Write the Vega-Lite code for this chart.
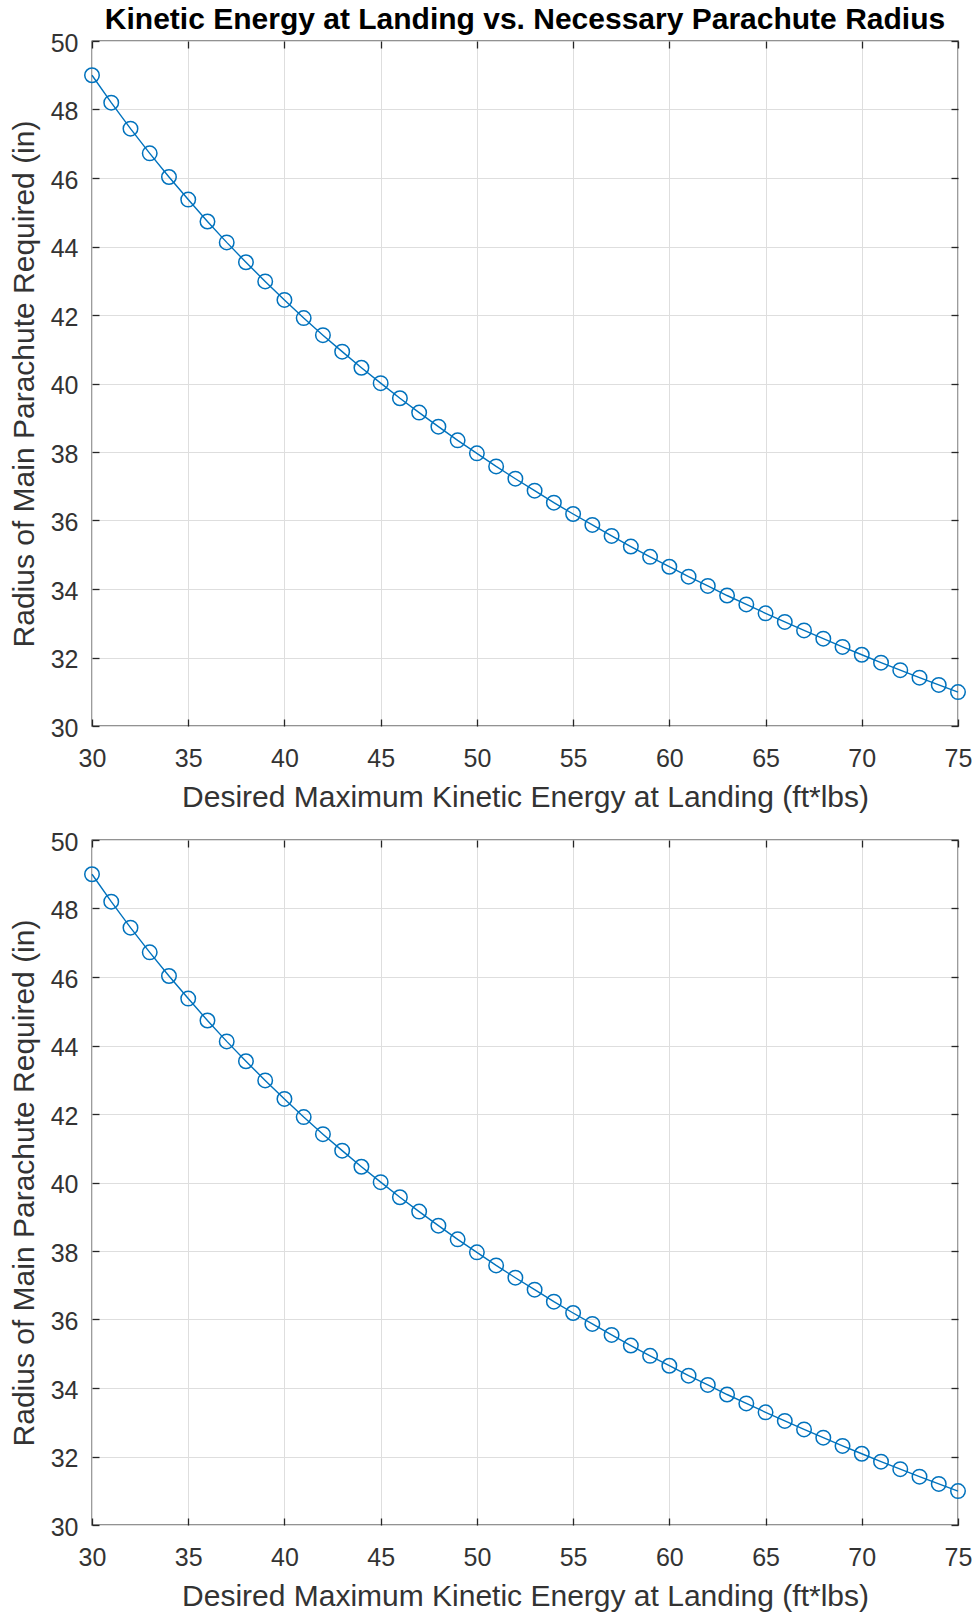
{
  "$schema": "https://vega.github.io/schema/vega-lite/v6.json",
  "padding": {"left": 8, "top": 4, "right": 10, "bottom": 0},
  "datasets": {
    "pts": [
      {"ke": 30, "r": 49.00}, {"ke": 31, "r": 48.20}, {"ke": 32, "r": 47.44}, {"ke": 33, "r": 46.72},
      {"ke": 34, "r": 46.03}, {"ke": 35, "r": 45.37}, {"ke": 36, "r": 44.73}, {"ke": 37, "r": 44.12},
      {"ke": 38, "r": 43.54}, {"ke": 39, "r": 42.98}, {"ke": 40, "r": 42.44}, {"ke": 41, "r": 41.91},
      {"ke": 42, "r": 41.41}, {"ke": 43, "r": 40.93}, {"ke": 44, "r": 40.46}, {"ke": 45, "r": 40.01},
      {"ke": 46, "r": 39.57}, {"ke": 47, "r": 39.15}, {"ke": 48, "r": 38.74}, {"ke": 49, "r": 38.34},
      {"ke": 50, "r": 37.96}, {"ke": 51, "r": 37.58}, {"ke": 52, "r": 37.22}, {"ke": 53, "r": 36.87},
      {"ke": 54, "r": 36.52}, {"ke": 55, "r": 36.19}, {"ke": 56, "r": 35.87}, {"ke": 57, "r": 35.55},
      {"ke": 58, "r": 35.24}, {"ke": 59, "r": 34.94}, {"ke": 60, "r": 34.65}, {"ke": 61, "r": 34.36},
      {"ke": 62, "r": 34.09}, {"ke": 63, "r": 33.81}, {"ke": 64, "r": 33.55}, {"ke": 65, "r": 33.29},
      {"ke": 66, "r": 33.04}, {"ke": 67, "r": 32.79}, {"ke": 68, "r": 32.55}, {"ke": 69, "r": 32.31},
      {"ke": 70, "r": 32.08}, {"ke": 71, "r": 31.85}, {"ke": 72, "r": 31.63}, {"ke": 73, "r": 31.41},
      {"ke": 74, "r": 31.20}, {"ke": 75, "r": 30.99}
    ]
  },
  "vconcat": [
    {
      "width": 866,
      "height": 685,
      "title": {"text": "Kinetic Energy at Landing vs. Necessary Parachute Radius", "fontSize": 30, "fontWeight": "bold", "color": "#000000", "offset": -4},
      "data": {"name": "pts"},
      "layer": [
        {
          "mark": {"type": "line", "color": "#0072BD", "strokeWidth": 1.4},
          "encoding": {
            "x": {"field": "ke", "type": "quantitative", "scale": {"domain": [30, 75], "nice": false, "zero": false},
                  "axis": {"orient": "bottom", "values": [30, 35, 40, 45, 50, 55, 60, 65, 70, 75], "title": "Desired Maximum Kinetic Energy at Landing (ft*lbs)"}},
            "y": {"field": "r", "type": "quantitative", "scale": {"domain": [30, 50], "nice": false, "zero": false},
                  "axis": {"orient": "left", "values": [30, 32, 34, 36, 38, 40, 42, 44, 46, 48, 50], "title": "Radius of Main Parachute Required (in)"}}
          }
        },
        {
          "mark": {"type": "point", "shape": "circle", "filled": false, "size": 210, "color": "#0072BD", "strokeWidth": 1.5, "opacity": 1},
          "encoding": {
            "x": {"field": "ke", "type": "quantitative", "axis": {"orient": "top", "values": [30, 35, 40, 45, 50, 55, 60, 65, 70, 75], "labels": false, "grid": false, "title": null}},
            "y": {"field": "r", "type": "quantitative", "axis": {"orient": "right", "values": [30, 32, 34, 36, 38, 40, 42, 44, 46, 48, 50], "labels": false, "grid": false, "title": null}}
          }
        }
      ],
      "resolve": {"axis": {"x": "independent", "y": "independent"}}
    },
    {
      "width": 866,
      "height": 685,
      "data": {"name": "pts"},
      "layer": [
        {
          "mark": {"type": "line", "color": "#0072BD", "strokeWidth": 1.4},
          "encoding": {
            "x": {"field": "ke", "type": "quantitative", "scale": {"domain": [30, 75], "nice": false, "zero": false},
                  "axis": {"orient": "bottom", "values": [30, 35, 40, 45, 50, 55, 60, 65, 70, 75], "title": "Desired Maximum Kinetic Energy at Landing (ft*lbs)"}},
            "y": {"field": "r", "type": "quantitative", "scale": {"domain": [30, 50], "nice": false, "zero": false},
                  "axis": {"orient": "left", "values": [30, 32, 34, 36, 38, 40, 42, 44, 46, 48, 50], "title": "Radius of Main Parachute Required (in)"}}
          }
        },
        {
          "mark": {"type": "point", "shape": "circle", "filled": false, "size": 210, "color": "#0072BD", "strokeWidth": 1.5, "opacity": 1},
          "encoding": {
            "x": {"field": "ke", "type": "quantitative", "axis": {"orient": "top", "values": [30, 35, 40, 45, 50, 55, 60, 65, 70, 75], "labels": false, "grid": false, "title": null}},
            "y": {"field": "r", "type": "quantitative", "axis": {"orient": "right", "values": [30, 32, 34, 36, 38, 40, 42, 44, 46, 48, 50], "labels": false, "grid": false, "title": null}}
          }
        }
      ],
      "resolve": {"axis": {"x": "independent", "y": "independent"}}
    }
  ],
  "spacing": 114,
  "bounds": "flush",
  "config": {
    "font": "Liberation Sans",
    "view": {"stroke": "#262626", "strokeWidth": 1.3},
    "title": {"font": "Liberation Sans", "anchor": "middle"},
    "axis": {
      "domain": false,
      "grid": true,
      "gridColor": "#dedede",
      "gridWidth": 1,
      "ticks": true,
      "tickSize": -7,
      "tickColor": "#262626",
      "tickWidth": 1.3,
      "labelFont": "Liberation Sans",
      "labelFontSize": 25,
      "labelColor": "#333333",
      "labelFlush": false,
      "labelOverlap": false,
      "titleFont": "Liberation Sans",
      "titleFontSize": 30,
      "titleFontWeight": "normal",
      "titleColor": "#333333"
    },
    "axisX": {"labelPadding": 27, "titlePadding": 11},
    "axisY": {"labelPadding": 21, "titlePadding": 11, "labelOffset": 2}
  }
}
